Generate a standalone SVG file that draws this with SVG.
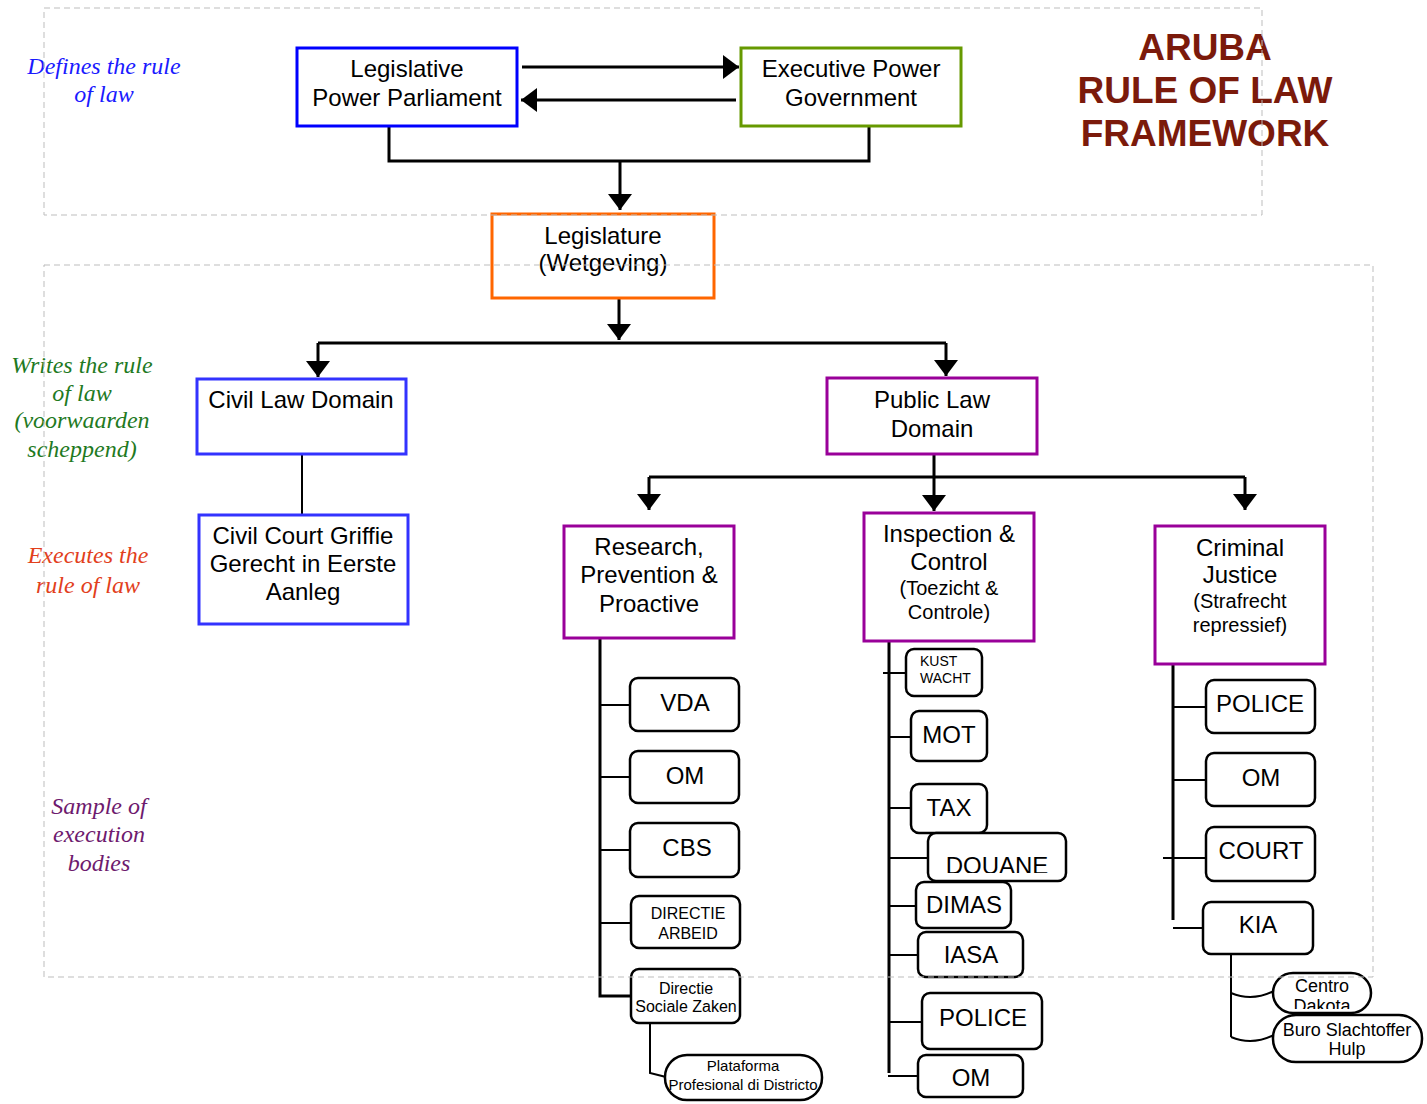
<svg xmlns="http://www.w3.org/2000/svg" width="1427" height="1104" viewBox="0 0 1427 1104">
<defs>
<marker id="ah" markerUnits="userSpaceOnUse" markerWidth="17" markerHeight="25" refX="16" refY="12" orient="auto"><path d="M0,0 L16,12 L0,24 z" fill="#000"/></marker>
<clipPath id="clipDouane"><rect x="927" y="833" width="139" height="40"/></clipPath>
<clipPath id="clipCentro"><rect x="1273" y="973" width="98" height="36"/></clipPath>
<style>
.t{font-family:"Liberation Sans",Arial,sans-serif;fill:#000;text-anchor:middle}
.f24{font-size:24px}.f20{font-size:20px}.f16{font-size:16px}.f15{font-size:15px}.f14{font-size:14px}.f18{font-size:18px}
.lab{font-family:"Liberation Serif","Times New Roman",serif;font-style:italic;font-size:24px;text-anchor:middle}
.box{fill:#fff;stroke-width:3}
.rb{fill:#fff;stroke:#000;stroke-width:2.5}
.c{fill:none;stroke:#000;stroke-width:3}
.b{fill:none;stroke:#000;stroke-width:2}
.dash{fill:none;stroke:#bdbdbd;stroke-width:1;stroke-dasharray:6 4}
</style>
</defs>
<rect width="1427" height="1104" fill="#fff"/>

<g id="labels">
<text class="lab" fill="#1a1aff"><tspan x="104" y="74">Defines the rule</tspan><tspan x="104" y="102">of law</tspan></text>
<text class="lab" fill="#1f7a1f"><tspan x="82" y="373">Writes the rule</tspan><tspan x="82" y="401">of law</tspan><tspan x="82" y="428">(voorwaarden</tspan><tspan x="82" y="457">scheppend)</tspan></text>
<text class="lab" fill="#e2401c"><tspan x="88" y="563">Executes the</tspan><tspan x="88" y="593">rule of law</tspan></text>
<text class="lab" fill="#6e1a6e"><tspan x="99" y="814">Sample of</tspan><tspan x="99" y="842">execution</tspan><tspan x="99" y="871">bodies</tspan></text>
</g>

<g id="title">
<text font-family="'Liberation Sans',Arial,sans-serif" font-weight="bold" font-size="37" fill="#7b1a0b" text-anchor="middle"><tspan x="1205" y="60">ARUBA</tspan><tspan x="1205" y="103">RULE OF LAW</tspan><tspan x="1205" y="146">FRAMEWORK</tspan></text>
</g>

<g id="connectors">
<path class="c" d="M522 67 H739" marker-end="url(#ah)"/>
<path class="c" d="M736 100 H521" marker-end="url(#ah)"/>
<path class="c" d="M389 127 V161 H869 V127"/>
<path class="c" d="M620 161 V210" marker-end="url(#ah)"/>
<path class="c" d="M619 299 V340" marker-end="url(#ah)"/>
<path class="c" d="M318 343 H946"/>
<path class="c" d="M318 343 V377" marker-end="url(#ah)"/>
<path class="c" d="M946 343 V376" marker-end="url(#ah)"/>
<path class="b" d="M302 454 V514"/>
<path class="c" d="M934 454 V477 M649 477 H1245"/>
<path class="c" d="M649 477 V510" marker-end="url(#ah)"/>
<path class="c" d="M934 477 V511" marker-end="url(#ah)"/>
<path class="c" d="M1245 477 V510" marker-end="url(#ah)"/>
<path class="c" d="M600 625 V996 H631"/>
<path class="b" d="M600 705 H630 M600 777 H630 M600 850 H630 M600 923 H631"/>
<path class="b" d="M650 1023 V1073 L666 1077"/>
<path class="c" d="M889 642 V1073"/>
<path class="b" d="M883 673 H905 M889 737 H910 M889 808 H910 M889 858 H927 M889 906 H916 M889 955 H918 M889 1022 H922 M888 1076 H918"/>
<path class="c" d="M1173 665 V920"/>
<path class="b" d="M1173 707 H1206 M1173 780 H1206 M1163 858 H1206 M1173 928 H1203"/>
<path class="b" d="M1231 954 V1037"/>
<path class="b" d="M1231 993 Q1252 1002 1274 991 M1231 1037 Q1252 1046 1274 1035"/>
</g>

<g id="n-legislative"><rect class="box" x="297" y="48" width="220" height="78" stroke="#0000ff"/><text class="t f24"><tspan x="407" y="77">Legislative</tspan><tspan x="407" y="106">Power Parliament</tspan></text></g>
<g id="n-executive"><rect class="box" x="741" y="48" width="220" height="78" stroke="#669900"/><text class="t f24"><tspan x="851" y="77">Executive Power</tspan><tspan x="851" y="106">Government</tspan></text></g>
<g id="n-legislature"><rect class="box" x="492" y="214" width="222" height="84" stroke="#ff6600"/><text class="t f24"><tspan x="603" y="244">Legislature</tspan><tspan x="603" y="271">(Wetgeving)</tspan></text></g>
<g id="n-civil"><rect class="box" x="197" y="379" width="209" height="75" stroke="#3333ff"/><text class="t f24" x="301" y="408">Civil Law Domain</text></g>
<g id="n-civilcourt"><rect class="box" x="199" y="515" width="209" height="109" stroke="#3333ff"/><text class="t f24"><tspan x="303" y="544">Civil Court Griffie</tspan><tspan x="303" y="572">Gerecht in Eerste</tspan><tspan x="303" y="600">Aanleg</tspan></text></g>
<g id="n-public"><rect class="box" x="827" y="378" width="210" height="76" stroke="#990099"/><text class="t f24"><tspan x="932" y="408">Public Law</tspan><tspan x="932" y="437">Domain</tspan></text></g>
<g id="n-research"><rect class="box" x="564" y="526" width="170" height="112" stroke="#990099"/><text class="t f24"><tspan x="649" y="555">Research,</tspan><tspan x="649" y="583">Prevention &amp;</tspan><tspan x="649" y="612">Proactive</tspan></text></g>
<g id="n-inspection"><rect class="box" x="864" y="513" width="170" height="128" stroke="#990099"/><text class="t"><tspan class="f24" x="949" y="542">Inspection &amp;</tspan><tspan class="f24" x="949" y="570">Control</tspan><tspan class="f20" x="949" y="595">(Toezicht &amp;</tspan><tspan class="f20" x="949" y="619">Controle)</tspan></text></g>
<g id="n-criminal"><rect class="box" x="1155" y="526" width="170" height="138" stroke="#990099"/><text class="t"><tspan class="f24" x="1240" y="556">Criminal</tspan><tspan class="f24" x="1240" y="583">Justice</tspan><tspan class="f20" x="1240" y="608">(Strafrecht</tspan><tspan class="f20" x="1240" y="632">repressief)</tspan></text></g>

<g id="n-vda"><rect class="rb" x="630" y="678" width="109" height="53" rx="8"/><text class="t f24" x="685" y="711">VDA</text></g>
<g id="n-om1"><rect class="rb" x="630" y="751" width="109" height="52" rx="8"/><text class="t f24" x="685" y="784">OM</text></g>
<g id="n-cbs"><rect class="rb" x="630" y="823" width="109" height="54" rx="8"/><text class="t f24" x="687" y="856">CBS</text></g>
<g id="n-arbeid"><rect class="rb" x="631" y="896" width="109" height="52" rx="8"/><text class="t f16"><tspan x="688" y="919">DIRECTIE</tspan><tspan x="688" y="939">ARBEID</tspan></text></g>
<g id="n-sociale"><rect class="rb" x="631" y="969" width="109" height="54" rx="8"/><text class="t f16"><tspan x="686" y="994">Directie</tspan><tspan x="686" y="1012">Sociale Zaken</tspan></text></g>
<g id="n-plataforma"><rect class="rb" x="665" y="1055" width="157" height="45" rx="22"/><text class="t f15"><tspan x="743" y="1071">Plataforma</tspan><tspan x="743" y="1090">Profesional di Districto</tspan></text></g>

<g id="n-kust"><rect class="rb" x="906" y="649" width="76" height="47" rx="8"/><text class="t f14" style="text-anchor:start"><tspan x="920" y="666">KUST</tspan><tspan x="920" y="683">WACHT</tspan></text></g>
<g id="n-mot"><rect class="rb" x="911" y="711" width="76" height="50" rx="8"/><text class="t f24" x="949" y="743">MOT</text></g>
<g id="n-tax"><rect class="rb" x="911" y="784" width="76" height="49" rx="8"/><text class="t f24" x="949" y="816">TAX</text></g>
<g id="n-douane"><rect class="rb" x="928" y="833" width="138" height="48" rx="8"/><text class="t f24" x="997" y="874" clip-path="url(#clipDouane)">DOUANE</text></g>
<g id="n-dimas"><rect class="rb" x="916" y="882" width="95" height="46" rx="8"/><text class="t f24" x="964" y="913">DIMAS</text></g>
<g id="n-iasa"><rect class="rb" x="918" y="932" width="105" height="45" rx="8"/><text class="t f24" x="971" y="963">IASA</text></g>
<g id="n-police1"><rect class="rb" x="922" y="993" width="120" height="56" rx="8"/><text class="t f24" x="983" y="1026">POLICE</text></g>
<g id="n-om2"><rect class="rb" x="918" y="1055" width="105" height="42" rx="8"/><text class="t f24" x="971" y="1086">OM</text></g>

<g id="n-police2"><rect class="rb" x="1206" y="680" width="109" height="53" rx="8"/><text class="t f24" x="1260" y="712">POLICE</text></g>
<g id="n-om3"><rect class="rb" x="1206" y="753" width="109" height="53" rx="8"/><text class="t f24" x="1261" y="786">OM</text></g>
<g id="n-court"><rect class="rb" x="1206" y="827" width="109" height="54" rx="8"/><text class="t f24" x="1261" y="859">COURT</text></g>
<g id="n-kia"><rect class="rb" x="1203" y="902" width="110" height="52" rx="8"/><text class="t f24" x="1258" y="933">KIA</text></g>
<g id="n-centro"><rect class="rb" x="1273" y="973" width="98" height="40" rx="20"/><text class="t f18" clip-path="url(#clipCentro)"><tspan x="1322" y="992">Centro</tspan><tspan x="1322" y="1012">Dakota</tspan></text></g>
<g id="n-buro"><rect class="rb" x="1273" y="1015" width="149" height="47" rx="23"/><text class="t f18"><tspan x="1347" y="1036">Buro Slachtoffer</tspan><tspan x="1347" y="1055">Hulp</tspan></text></g>

<g id="frames">
<rect class="dash" x="44" y="8" width="1218" height="207"/>
<rect class="dash" x="44" y="265" width="1329" height="712"/>
</g>
</svg>
